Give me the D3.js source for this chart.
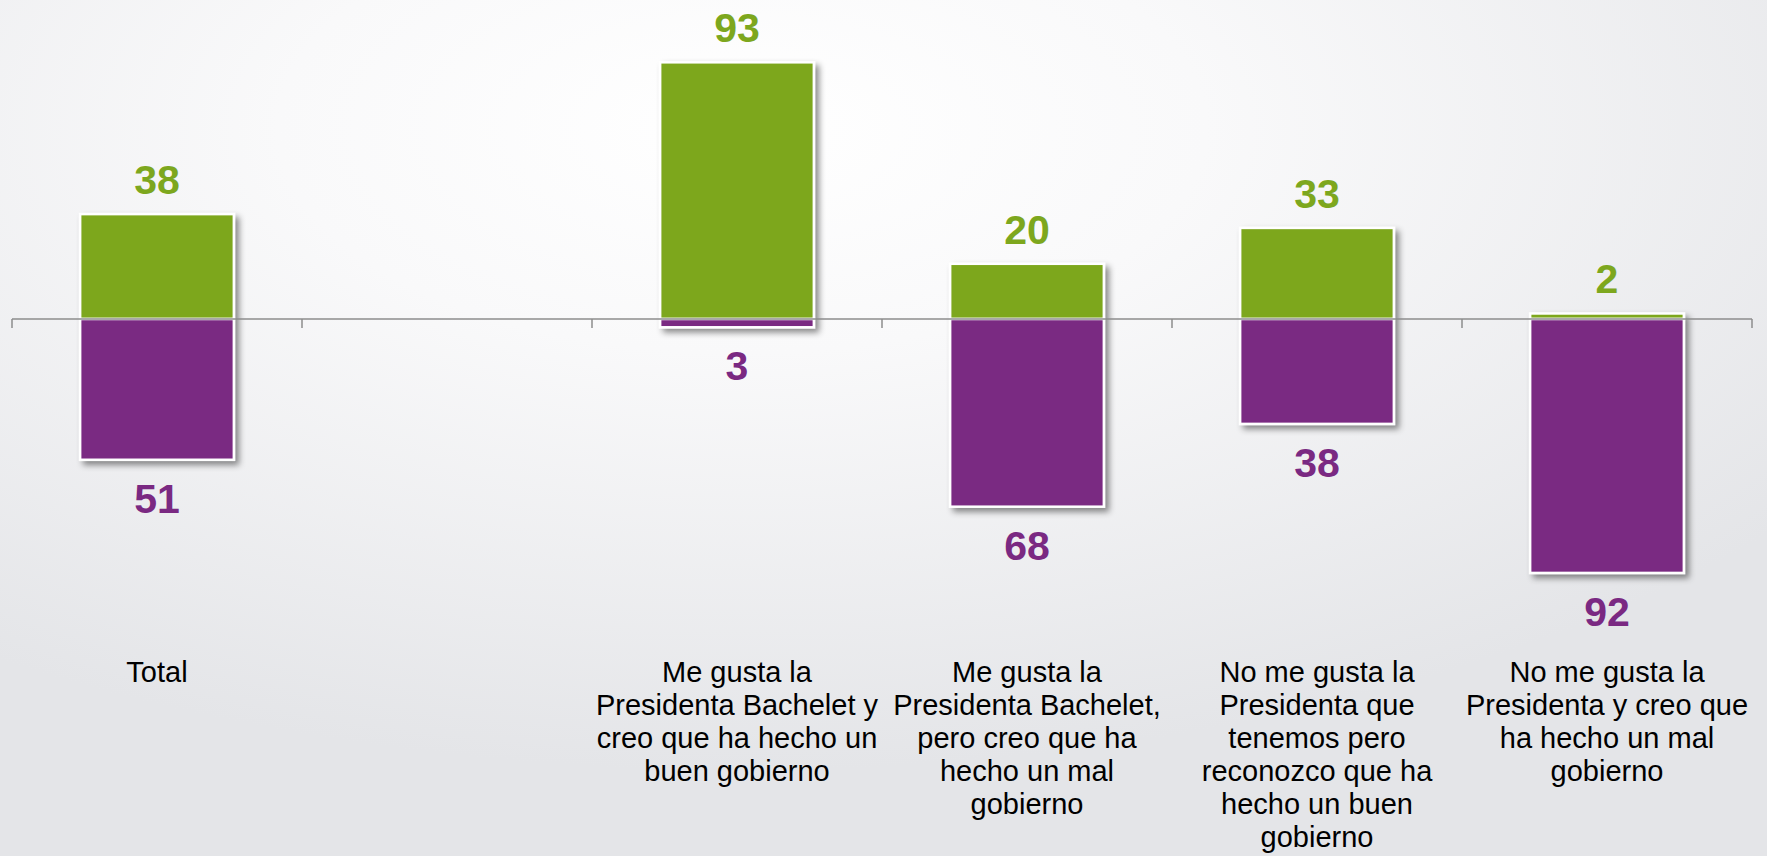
<!DOCTYPE html>
<html><head><meta charset="utf-8">
<script src="https://cdn.jsdelivr.net/npm/d3@7"></script>
<style>html,body{margin:0;padding:0;overflow:hidden;}svg{display:block;}</style>
</head><body>
<svg id="chart" width="1767" height="856"></svg>
<script>
const categories = [
  ["Total"],
  [""],
  ["Me gusta la", "Presidenta Bachelet y", "creo que ha hecho un", "buen gobierno"],
  ["Me gusta la", "Presidenta Bachelet,", "pero creo que ha", "hecho un mal", "gobierno"],
  ["No me gusta la", "Presidenta que", "tenemos pero", "reconozco que ha", "hecho un buen", "gobierno"],
  ["No me gusta la", "Presidenta y creo que", "ha hecho un mal", "gobierno"]
];
const positive = [38, null, 93, 20, 33, 2];
const negative = [51, null, 3, 68, 38, 92];

const W = 1767, H = 856;
const svg = d3.select("#chart");
const defs = svg.append("defs");
const rg = defs.append("radialGradient").attr("id","bg")
  .attr("cx","42%").attr("cy","15%").attr("r","75%")
  .attr("gradientUnits","objectBoundingBox");
rg.append("stop").attr("offset","0%").attr("stop-color","#ffffff");
rg.append("stop").attr("offset","35%").attr("stop-color","#f9f9fa");
rg.append("stop").attr("offset","100%").attr("stop-color","#e4e5e8");
const f = defs.append("filter").attr("id","sh").attr("x","-20%").attr("y","-20%").attr("width","150%").attr("height","150%");
f.append("feDropShadow").attr("dx",4).attr("dy",4).attr("stdDeviation",3)
  .attr("flood-color","#000").attr("flood-opacity",0.45);

svg.append("rect").attr("width",W).attr("height",H).attr("fill","url(#bg)");

const idx = categories.map((d,i)=>i);
const x = d3.scaleBand().domain(idx).range([12,1752]).paddingInner(0.47).paddingOuter(0.235);
const y = d3.scaleLinear().domain([-100,100]).range([595,43]);

const green = "#7da71e", purple = "#7a2982";

// bars
const g = svg.append("g");
idx.forEach(i => {
  if (positive[i] == null) return;
  const bg = g.append("g").attr("filter","url(#sh)");
  bg.append("rect").attr("x",x(i)).attr("width",x.bandwidth())
    .attr("y",y(positive[i])).attr("height",y(0)-y(positive[i]))
    .attr("fill",green).attr("stroke","#fff").attr("stroke-width",2.5);
  bg.append("rect").attr("x",x(i)).attr("width",x.bandwidth())
    .attr("y",y(0)).attr("height",y(-negative[i])-y(0))
    .attr("fill",purple).attr("stroke","#fff").attr("stroke-width",2.5);
});

// axis
const ax = svg.append("g");
ax.append("line").attr("x1",x.range()[0]).attr("x2",x.range()[1])
  .attr("y1",y(0)).attr("y2",y(0)).attr("stroke","#8c8c8c").attr("stroke-width",1.5);
const step = x.step();
d3.range(categories.length+1).forEach(k=>{
  const tx = x.range()[0] + k*step;
  ax.append("line").attr("x1",tx).attr("x2",tx).attr("y1",y(0)).attr("y2",y(0)+9)
    .attr("stroke","#8c8c8c").attr("stroke-width",1.5);
});

// value labels
const lab = svg.append("g").attr("font-family","Arial, 'Liberation Sans', sans-serif")
  .attr("font-weight","bold").attr("font-size",41).attr("text-anchor","middle");
idx.forEach(i => {
  if (positive[i] == null) return;
  const cx = x(i) + x.bandwidth()/2;
  lab.append("text").attr("x",cx).attr("y",y(positive[i])-20).attr("fill",green).text(positive[i]);
  lab.append("text").attr("x",cx).attr("y",y(-negative[i])+53).attr("fill",purple).text(negative[i]);
});

// category labels
const cl = svg.append("g").attr("font-family","Arial, 'Liberation Sans', sans-serif")
  .attr("font-size",29).attr("fill","#000").attr("text-anchor","middle");
idx.forEach(i => {
  const cx = x(i) + x.bandwidth()/2;
  const t = cl.append("text").attr("x",cx).attr("y",682);
  categories[i].forEach((line,j)=>{
    t.append("tspan").attr("x",cx).attr("dy", j===0?0:33).text(line);
  });
});
</script>
</body></html>
